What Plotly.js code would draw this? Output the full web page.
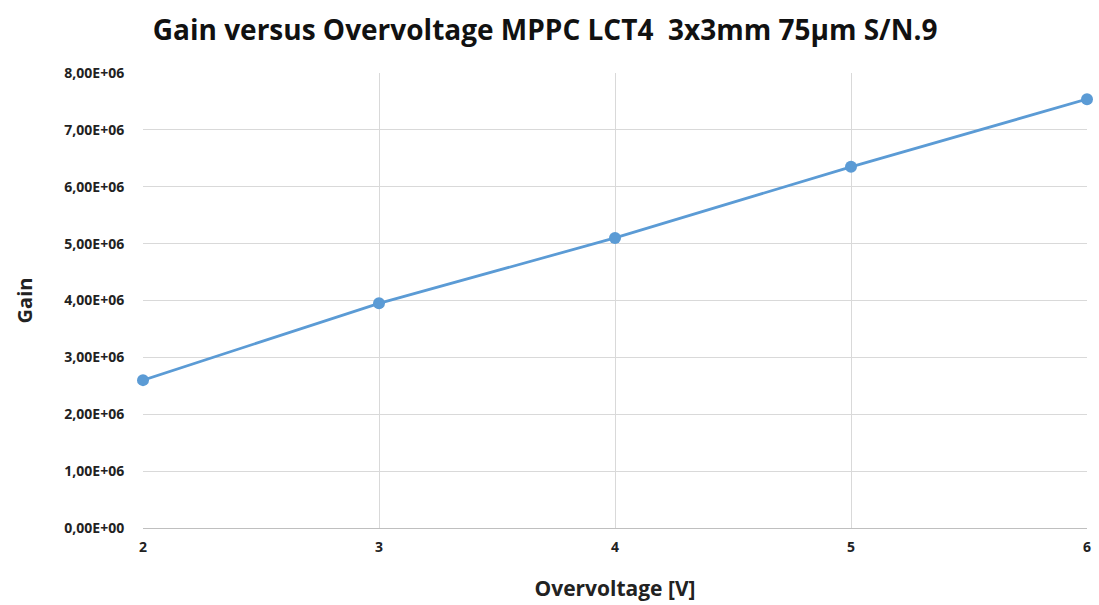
<!DOCTYPE html>
<html>
<head>
<meta charset="utf-8">
<script src="https://cdn.plot.ly/plotly-3.0.1.min.js"></script>
<style>html,body{margin:0;padding:0;background:#fff;}#chart{width:1099px;height:605px;}</style>
</head>
<body>
<div id="chart"></div>
<script>
var overvoltage = [2, 3, 4, 5, 6];
var gain = [2.60e6, 3.95e6, 5.10e6, 6.35e6, 7.54e6];
var yTickVals = [0, 1e6, 2e6, 3e6, 4e6, 5e6, 6e6, 7e6, 8e6];
var yTickText = ["0,00E+00","1,00E+06","2,00E+06","3,00E+06","4,00E+06","5,00E+06","6,00E+06","7,00E+06","8,00E+06"];
var xTickVals = [2, 3, 4, 5, 6];
var xTickText = ["2", "3", "4", "5", "6"];

var fontFam = "'Open Sans', 'DejaVu Sans', sans-serif";
var trace = {
  x: overvoltage, y: gain, type: 'scatter', mode: 'lines+markers',
  line: {color: '#5B9BD5', width: 2.75},
  marker: {color: '#5B9BD5', size: 12},
  cliponaxis: false, showlegend: false
};
var layout = {
  width: 1099, height: 605,
  margin: {l: 143, r: 12, t: 73, b: 77},
  paper_bgcolor: '#fff', plot_bgcolor: '#fff',
  title: {text: 'Gain versus Overvoltage MPPC LCT4  3x3mm 75µm S/N.9', x: 0.496, xanchor: 'center', y: 0.95, yanchor: 'middle',
          font: {family: fontFam, size: 28, color: '#111', weight: 'bold'}},
  xaxis: {
    range: [2, 6], tickvals: xTickVals, ticktext: xTickText,
    showgrid: true, gridcolor: '#d9d9d9', gridwidth: 1,
    zeroline: false, showline: true, linecolor: '#bfbfbf', linewidth: 1,
    ticks: 'outside', ticklen: 6, tickcolor: 'rgba(255,255,255,0)',
    tickfont: {family: fontFam, size: 14, color: '#222', weight: 'bold'},
    title: {text: 'Overvoltage [V]', standoff: 26, font: {family: fontFam, size: 21, color: '#222', weight: 'bold'}}
  },
  yaxis: {
    range: [0, 8e6], tickvals: yTickVals, ticktext: yTickText,
    showgrid: true, gridcolor: '#d9d9d9', gridwidth: 1,
    zeroline: false, showline: false,
    ticks: 'outside', ticklen: 15, tickcolor: 'rgba(255,255,255,0)',
    tickfont: {family: fontFam, size: 14, color: '#222', weight: 'bold'},
    title: {text: 'Gain', standoff: 26, font: {family: fontFam, size: 20, color: '#222', weight: 'bold'}}
  }
};
Plotly.newPlot('chart', [trace], layout, {staticPlot: true, displayModeBar: false});
</script>
</body>
</html>
